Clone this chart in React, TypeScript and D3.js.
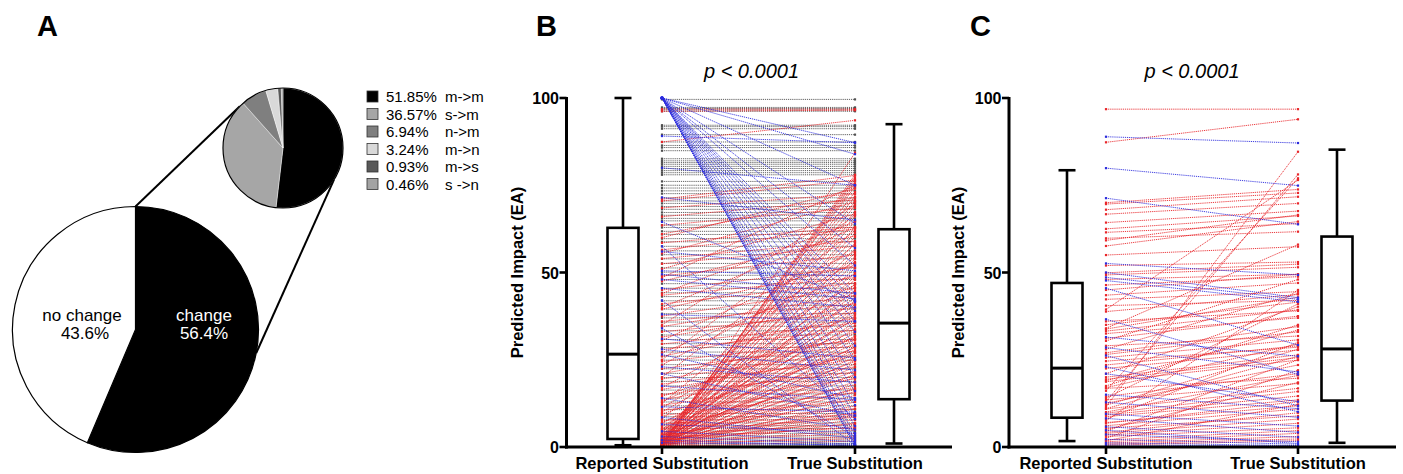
import React from "react";
import * as d3 from "d3";

// ---------- Panel A data ----------
const mainLabels = ["change", "no change"];
const mainValues = [56.4, 43.6];
const mainColors = ["#000000", "#ffffff"];

const subLabels = ["m->m", "s->m", "n->m", "m->n", "m->s", "s ->n"];
const subValues = [51.85, 36.57, 6.94, 3.24, 0.93, 0.46];
const subPct = ["51.85%", "36.57%", "6.94%", "3.24%", "0.93%", "0.46%"];
const subColors = ["#000000", "#a6a6a6", "#7f7f7f", "#d9d9d9", "#595959", "#a3a3a3"];

// ---------- Panel B / C shared ----------
const groups = ["Reported Substitution", "True Substitution"];
const yTicks = [0, 50, 100];
const pLabel = "p < 0.0001";
const yLabel = "Predicted Impact (EA)";

// box stats: [min, q1, median, q3, max]
const boxB = [
  [0.5, 2.3, 26.6, 62.8, 100],
  [1.0, 13.7, 35.5, 62.4, 92.5],
];
const boxC = [
  [1.7, 8.4, 22.6, 47.0, 79.3],
  [1.2, 13.3, 28.1, 60.3, 85.2],
];

// Panel B: unchanged values (same reported & true)
const bUnchanged = [
  99.6, 97.3, 97.0, 96.6, 96.2, 92.2, 91.8, 91.2, 89.5, 87.4, 86.4, 85.8, 84.9, 82.6,
  82.0, 81.5, 81.0, 80.4, 79.8, 79.2, 78.6, 78.0, 76.1, 75.0, 74.2, 73.4, 72.6, 71.4,
  70.5, 69.8, 68.9, 68.1, 67.2, 66.4, 65.5, 64.8, 63.6, 62.9, 61.8, 60.9, 59.7, 58.8,
  57.5, 56.2, 55.1, 53.9, 52.6, 51.3, 50.1, 49.2, 48.0, 46.8, 45.5, 44.2, 43.1, 41.9,
  40.6, 39.5, 38.2, 37.0, 35.8, 34.6, 33.3, 32.1, 30.8, 29.6, 28.5, 27.2, 26.0, 24.9,
  23.6, 22.4, 21.1, 19.9, 18.8, 17.5, 16.3, 15.2, 14.0, 12.9, 11.8, 10.7, 9.6, 8.7,
  7.8, 6.9, 6.1, 5.3, 4.6, 3.9, 3.2, 2.6, 2.0, 1.5, 1.0, 0.6, 0.3,
];

// Panel B: increased (red) [reported, true]
const bIncreased = [
  [96.8, 96.8], [96.2, 96.5], [87.4, 93.6],
  [0.2, 84.3], [0.5, 78.0], [0.8, 77.3], [1.0, 76.8], [1.5, 76.1], [0.3, 75.4],
  [2.0, 74.6], [0.6, 73.1], [1.2, 71.8], [2.5, 70.4], [0.4, 69.2], [3.0, 67.4],
  [0.9, 66.1], [1.8, 64.7], [0.1, 62.9], [4.0, 61.3], [0.7, 60.2], [2.2, 58.4],
  [1.4, 56.8], [0.3, 55.6], [3.5, 53.8], [0.5, 52.7], [1.1, 51.2], [5.0, 49.9],
  [0.2, 48.8], [2.8, 47.9], [0.6, 46.6], [1.6, 45.8], [0.9, 44.9], [4.5, 43.7],
  [0.1, 42.8], [2.4, 41.9], [1.3, 40.7], [0.4, 39.8], [3.2, 38.9], [0.8, 37.6],
  [1.9, 36.9], [0.3, 35.7], [6.0, 34.8], [0.6, 33.9], [2.1, 32.7], [1.0, 31.8],
  [0.2, 30.9], [3.8, 29.7], [0.5, 28.8], [1.7, 27.9], [0.9, 26.8], [2.6, 25.7],
  [0.4, 24.9], [1.2, 23.8], [0.1, 22.9], [3.4, 21.7], [0.7, 20.8], [1.5, 19.9],
  [0.3, 18.7], [2.3, 17.9], [0.8, 16.8], [1.1, 15.9], [0.5, 14.8], [2.9, 13.7],
  [0.2, 12.9], [1.4, 11.8], [0.6, 10.9], [1.9, 9.8], [0.4, 8.9], [1.0, 7.8],
  [0.2, 6.9], [2.0, 5.8], [0.7, 4.9], [1.3, 3.9], [0.3, 3.1], [0.9, 2.4], [0.1, 1.7],
  [68.5, 72.5], [66.0, 70.8], [63.5, 68.5], [61.0, 71.5], [58.5, 63.0], [56.5, 62.5],
  [54.0, 59.0], [52.5, 57.5], [49.0, 55.0], [47.5, 60.5], [45.0, 51.5], [43.5, 48.5],
  [41.0, 47.0], [39.5, 52.0], [37.5, 45.5], [36.0, 41.0], [34.5, 43.5], [33.0, 38.5],
  [31.5, 40.0], [29.5, 35.5], [28.0, 33.5], [26.0, 37.0], [24.5, 30.5], [22.5, 29.0],
  [21.0, 31.0], [19.5, 27.5], [18.0, 25.0], [16.5, 26.0], [15.0, 21.5], [13.5, 23.0],
  [12.0, 19.5], [10.5, 17.0], [9.0, 15.5], [7.5, 13.5], [6.5, 11.0], [5.5, 9.5],
  [4.2, 8.5], [3.6, 6.5], [2.7, 5.5], [35.0, 69.5], [25.0, 66.5], [20.0, 62.0],
  [12.5, 58.0], [8.0, 54.5], [30.5, 56.0], [17.0, 46.5], [10.0, 41.5], [6.8, 36.5],
  [14.5, 33.0], [5.2, 28.5], [3.3, 24.5], [27.0, 49.5], [44.0, 64.5], [51.0, 66.8],
  [60.0, 74.0], [70.5, 76.5], [71.0, 77.8], [55.5, 70.2], [40.0, 62.8], [48.5, 75.0],
  [23.5, 53.0], [11.2, 44.5], [7.0, 31.5], [2.3, 16.5], [1.6, 9.2], [4.8, 20.5],
  [9.5, 27.0], [13.0, 38.0],
];

// Panel B: decreased (blue) [reported, true]
const bDecreased = [
  [100, 87.2], [100, 83.9], [100, 75.0], [100, 64.0], [100, 57.0], [100, 52.0],
  [100, 44.0], [100, 41.5], [100, 39.0], [100, 36.0], [100, 33.0], [100, 29.0],
  [100, 25.0], [100, 20.0], [100, 16.0], [100, 12.0], [100, 9.0], [100, 6.0],
  [100, 3.5], [100, 2.0], [100, 1.0], [100, 0.5], [100, 0.2],
  [89.1, 87.2], [80.0, 75.0], [71.5, 65.0], [64.5, 42.0], [57.5, 8.0], [56.0, 50.5],
  [50.5, 49.0], [49.5, 44.0], [48.0, 42.5], [45.5, 40.0], [42.0, 0.5], [38.0, 36.0],
  [34.0, 3.0], [31.0, 25.5], [28.0, 22.0], [26.5, 14.0], [23.0, 18.5], [21.0, 9.0],
  [17.5, 13.5], [14.0, 5.0], [11.5, 10.0], [8.5, 2.5], [6.5, 4.0], [4.5, 1.5],
  [3.0, 0.8], [2.0, 0.3], [1.2, 0.6],
];

// Panel C: increased (red)
const cIncreased = [
  [96.8, 96.8], [87.3, 93.9], [11.5, 84.6], [13.0, 78.1], [16.1, 77.0], [39.4, 76.5],
  [70.0, 73.8], [69.6, 72.8], [68.0, 71.7], [66.7, 69.8], [64.3, 67.6], [62.5, 66.2],
  [61.5, 64.0], [59.8, 61.7], [59.2, 66.5], [57.6, 64.6], [55.0, 57.4], [49.9, 52.4],
  [49.3, 51.5], [46.4, 48.8], [42.3, 44.5], [38.8, 43.7], [33.8, 42.9], [33.2, 39.3],
  [31.1, 37.5], [30.4, 48.0], [29.0, 31.8], [25.6, 30.7], [24.6, 28.6], [22.5, 27.8],
  [20.0, 26.4], [19.4, 25.6], [18.7, 24.9], [16.8, 19.7], [13.5, 18.2], [10.9, 16.8],
  [9.7, 15.9], [9.2, 14.6], [8.7, 13.5], [6.8, 13.0], [6.1, 10.9], [5.4, 8.9],
  [3.9, 8.0], [3.4, 6.8], [3.0, 5.5], [2.0, 4.7], [1.5, 3.9], [1.1, 3.0],
  [7.5, 45.0], [14.0, 41.0], [21.0, 40.2], [28.0, 44.0], [35.0, 41.5], [45.0, 49.5],
  [12.0, 28.0], [4.5, 25.0], [2.5, 22.0], [0.8, 2.3], [8.0, 30.0], [17.5, 35.0],
  [26.5, 33.0], [36.0, 39.0], [0.5, 1.8], [1.8, 12.2], [4.2, 9.8], [5.0, 18.5],
  [7.0, 11.8], [10.0, 20.5], [11.0, 26.0], [12.5, 23.5], [14.5, 21.0], [17.0, 29.5],
  [19.0, 33.5], [23.5, 29.0], [27.0, 34.5], [32.5, 37.0], [34.0, 58.0], [40.5, 42.0],
  [43.5, 47.0], [48.0, 49.5], [52.0, 53.0],
];

// Panel C: decreased (blue)
const cDecreased = [
  [88.9, 87.1], [79.9, 74.9], [71.3, 63.8], [52.6, 49.3], [48.6, 42.3], [47.7, 41.6],
  [45.5, 29.2], [36.6, 20.8], [26.2, 11.8], [23.0, 10.1], [50.0, 42.8], [31.5, 26.0],
  [21.0, 13.0], [12.8, 8.5], [8.2, 4.2], [5.8, 2.8], [3.6, 1.5], [2.2, 0.8],
  [1.2, 0.4], [0.6, 0.2], [4.8, 1.0], [9.5, 6.0], [15.0, 11.0], [28.5, 21.5],
];

const FONT = "'Liberation Sans', Arial, Helvetica, sans-serif";
const RED = "#e8262a";
const BLUE = "#2b2bdc";
const GRAY = "#505050";

type PanelProps = {
  axisX: number;
  axisEnd: number;
  x0: number;
  x1: number;
  boxes: number[][];
  unchanged: number[];
  inc: number[][];
  dec: number[][];
  letter: string;
  letterX: number;
  yLabelX: number;
  titleShift: number;
};

function PairLines({ pairs, x, y, color, w }: any) {
  return (
    <g>
      {pairs.map((p: number[], i: number) => (
        <g key={i}>
          <line
            x1={x(groups[0])}
            y1={y(p[0])}
            x2={x(groups[1])}
            y2={y(p[1])}
            stroke={color}
            strokeWidth={w}
            strokeDasharray="1.2,0.9"
          />
          <rect x={x(groups[0]) - 1.1} y={y(p[0]) - 1.1} width={2.2} height={2.2} fill={color} />
          <rect x={x(groups[1]) - 1.1} y={y(p[1]) - 1.1} width={2.2} height={2.2} fill={color} />
        </g>
      ))}
    </g>
  );
}

function Panel(props: PanelProps) {
  const { axisX, axisEnd, x0, x1, boxes, unchanged, inc, dec, letter, letterX, yLabelX, titleShift } = props;
  const y = d3.scaleLinear().domain([0, 100]).range([447, 98]);
  const x = d3.scalePoint<string>().domain(groups).range([x0, x1]);
  const boxOffset = 39;
  const boxW = 31;
  const capW = 17;
  const boxCenters = [x(groups[0])! - boxOffset, x(groups[1])! + boxOffset];
  const grayPairs = unchanged.map((v) => [v, v]);
  return (
    <g>
      <text x={letterX} y={36} fontFamily={FONT} fontWeight="bold" fontSize={29}>
        {letter}
      </text>
      <text
        x={(x0 + x1) / 2 + titleShift}
        y={78}
        textAnchor="middle"
        fontFamily={FONT}
        fontStyle="italic"
        fontSize={20}
      >
        {pLabel}
      </text>
      <PairLines pairs={grayPairs} x={x} y={y} color={GRAY} w={0.9} />
      <PairLines pairs={inc} x={x} y={y} color={RED} w={0.9} />
      <PairLines pairs={dec} x={x} y={y} color={BLUE} w={0.9} />
      {boxes.map((b, i) => {
        const cx = boxCenters[i];
        return (
          <g key={i} stroke="#000" strokeWidth={2.6} fill="none">
            <line x1={cx} x2={cx} y1={y(b[0])} y2={y(b[1])} />
            <line x1={cx} x2={cx} y1={y(b[3])} y2={y(b[4])} />
            <line x1={cx - capW / 2} x2={cx + capW / 2} y1={y(b[0])} y2={y(b[0])} />
            <line x1={cx - capW / 2} x2={cx + capW / 2} y1={y(b[4])} y2={y(b[4])} />
            <rect x={cx - boxW / 2} y={y(b[3])} width={boxW} height={y(b[1]) - y(b[3])} fill="#fff" />
            <line x1={cx - boxW / 2} x2={cx + boxW / 2} y1={y(b[2])} y2={y(b[2])} strokeWidth={3} />
          </g>
        );
      })}
      {/* y axis */}
      <line x1={axisX} x2={axisX} y1={y(100) - 1} y2={y(0) + 1.5} stroke="#000" strokeWidth={3} />
      {yTicks.map((t) => (
        <g key={t}>
          <line x1={axisX - 7} x2={axisX} y1={y(t)} y2={y(t)} stroke="#000" strokeWidth={2.6} />
          <text
            x={axisX - 7.5}
            y={y(t) + 6}
            textAnchor="end"
            fontFamily={FONT}
            fontWeight="bold"
            fontSize={16}
          >
            {t}
          </text>
        </g>
      ))}
      <text
        transform={`translate(${yLabelX},${(y(0) + y(100)) / 2}) rotate(-90)`}
        textAnchor="middle"
        fontFamily={FONT}
        fontWeight="bold"
        fontSize={16.5}
      >
        {yLabel}
      </text>
      {/* x axis */}
      <line x1={axisX - 1.5} x2={axisEnd} y1={y(0)} y2={y(0)} stroke="#000" strokeWidth={3} />
      {groups.map((g) => (
        <g key={g}>
          <line x1={x(g)} x2={x(g)} y1={y(0)} y2={y(0) + 7} stroke="#000" strokeWidth={2.6} />
          <text
            x={x(g)}
            y={469}
            textAnchor="middle"
            fontFamily={FONT}
            fontWeight="bold"
            fontSize={16.5}
          >
            {g}
          </text>
        </g>
      ))}
    </g>
  );
}

function PanelA() {
  const bigC = [135.5, 329.5];
  const bigR = 123;
  const smC = [283, 148];
  const smR = 60;
  const pie = d3.pie<number>().sort(null).value((d) => d);
  const bigArcs = pie(mainValues);
  const smArcs = pie(subValues);
  const arcBig = d3.arc<d3.PieArcDatum<number>>().innerRadius(0).outerRadius(bigR);
  const arcSm = d3.arc<d3.PieArcDatum<number>>().innerRadius(0).outerRadius(smR);
  const pt = (c: number[], r: number, deg: number) => {
    const a = (deg * Math.PI) / 180;
    return [c[0] + r * Math.sin(a), c[1] - r * Math.cos(a)];
  };
  const l1a = pt(bigC, bigR, 0);
  const l1b = pt(smC, smR, 314);
  const l2a = pt(bigC, bigR, 101);
  const l2b = pt(smC, smR, 122);
  const legendX = 367;
  const legendY0 = 97;
  const legendDy = 17.5;
  return (
    <g>
      <text x={37} y={36} fontFamily={FONT} fontWeight="bold" fontSize={29}>
        A
      </text>
      <line x1={l1a[0]} y1={l1a[1]} x2={l1b[0]} y2={l1b[1]} stroke="#000" strokeWidth={2} />
      <line x1={l2a[0]} y1={l2a[1]} x2={l2b[0]} y2={l2b[1]} stroke="#000" strokeWidth={2} />
      <g transform={`translate(${bigC[0]},${bigC[1]})`}>
        {bigArcs.map((a, i) => (
          <path key={i} d={arcBig(a)!} fill={mainColors[i]} stroke="#000" strokeWidth={1.2} />
        ))}
      </g>
      <text x={204} y={321} textAnchor="middle" fontFamily={FONT} fontSize={17} fill="#fff">
        {mainLabels[0]}
      </text>
      <text x={204} y={339} textAnchor="middle" fontFamily={FONT} fontSize={17} fill="#fff">
        {mainValues[0].toFixed(1)}%
      </text>
      <text x={82} y={321} textAnchor="middle" fontFamily={FONT} fontSize={17} fill="#000">
        {mainLabels[1]}
      </text>
      <text x={85} y={339} textAnchor="middle" fontFamily={FONT} fontSize={17} fill="#000">
        {mainValues[1].toFixed(1)}%
      </text>
      <g transform={`translate(${smC[0]},${smC[1]})`}>
        {smArcs.map((a, i) => (
          <path key={i} d={arcSm(a)!} fill={subColors[i]} stroke="#fff" strokeWidth={0.4} />
        ))}
        <circle r={smR} fill="none" stroke="#000" strokeWidth={1.2} />
      </g>
      {subLabels.map((l, i) => {
        const yy = legendY0 + i * legendDy;
        return (
          <g key={l}>
            <rect
              x={legendX}
              y={yy - 6}
              width={11}
              height={11}
              fill={subColors[i]}
              stroke="#333"
              strokeWidth={0.8}
            />
            <text x={386} y={yy + 5} fontFamily={FONT} fontSize={15}>
              {subPct[i]}
            </text>
            <text x={445} y={yy + 5} fontFamily={FONT} fontSize={15}>
              {l}
            </text>
          </g>
        );
      })}
    </g>
  );
}

export default function App() {
  return (
    <svg
      width={1403}
      height={474}
      style={{ position: "absolute", left: 0, top: 0, background: "#fff" }}
    >
      <rect width={1403} height={474} fill="#fff" />
      <PanelA />
      <Panel
        axisX={566.5}
        axisEnd={952}
        x0={662}
        x1={855}
        boxes={boxB}
        unchanged={bUnchanged}
        inc={bIncreased}
        dec={bDecreased}
        letter="B"
        letterX={536}
        yLabelX={523}
        titleShift={-7}
      />
      <Panel
        axisX={1009}
        axisEnd={1396}
        x0={1106}
        x1={1298}
        boxes={boxC}
        unchanged={[]}
        inc={cIncreased}
        dec={cDecreased}
        letter="C"
        letterX={970}
        yLabelX={964}
        titleShift={-10}
      />
    </svg>
  );
}
